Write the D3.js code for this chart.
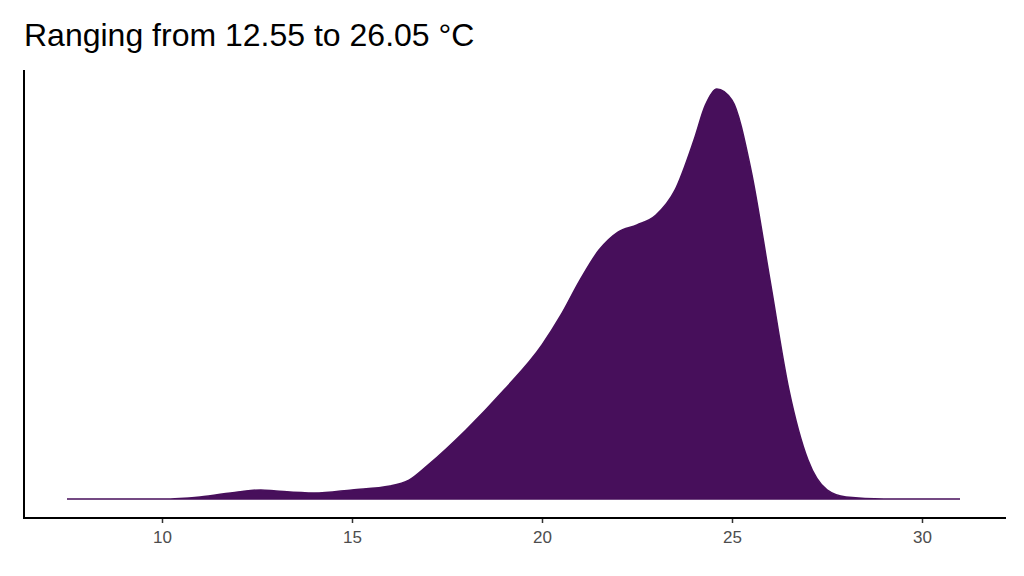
<!DOCTYPE html><html><head><script src="https://cdn.jsdelivr.net/npm/d3@7"></script>
<style>body{margin:0;background:#fff}text{font-family:Arial,"Liberation Sans",sans-serif}</style></head><body>
<svg id="c" width="1024" height="576"></svg>
<script>
const temps=[7.5,10,11,12,12.6,13,14,15,16,16.5,17,18,19,20,20.5,21,21.5,22,22.5,23,23.5,24,24.3,24.6,25,25.5,26,26.5,27,27.5,28,29,31];
const density=[0,0,0.0009,0.0031,0.0040,0.0035,0.0026,0.0040,0.0057,0.0083,0.0149,0.0303,0.0478,0.0676,0.0808,0.0961,0.1093,0.1172,0.1203,0.1247,0.1356,0.1576,0.1729,0.18,0.1751,0.1444,0.0961,0.0478,0.0171,0.0040,0.0009,0,0];
const xTicks=[10,15,20,25,30];
const title="Ranging from 12.55 to 26.05 °C";
const svg=d3.select("#c");
const x=d3.scaleLinear().domain([10,30]).range([162,922]);
const y=d3.scaleLinear().domain([0,0.18]).range([499,89]);
const pts=temps.map((t,i)=>[t,density[i]]);
svg.append("path").datum(pts).attr("fill","#470f5b").attr("stroke","#470f5b").attr("stroke-width",1.5)
 .attr("d",d3.area().x(d=>x(d[0])).y0(y(0)).y1(d=>y(d[1])).curve(d3.curveMonotoneX));
svg.append("line").attr("x1",24).attr("x2",24).attr("y1",70).attr("y2",519).attr("stroke","#000").attr("stroke-width",2);
const ax=svg.append("g").attr("transform","translate(0,518)").call(d3.axisBottom(x).tickValues(xTicks).tickSize(5).tickSizeOuter(0));
ax.select(".domain").remove();
svg.append("line").attr("x1",23).attr("x2",1006).attr("y1",518).attr("y2",518).attr("stroke","#000").attr("stroke-width",2);
ax.selectAll(".tick line").attr("stroke","#333").attr("stroke-width",1.5);
ax.selectAll(".tick text").attr("font-size",17).attr("fill","#4d4d4d").attr("dy","1em");
svg.append("text").attr("x",24).attr("y",46).attr("font-size",32).attr("fill","#000").text(title);
</script></body></html>
